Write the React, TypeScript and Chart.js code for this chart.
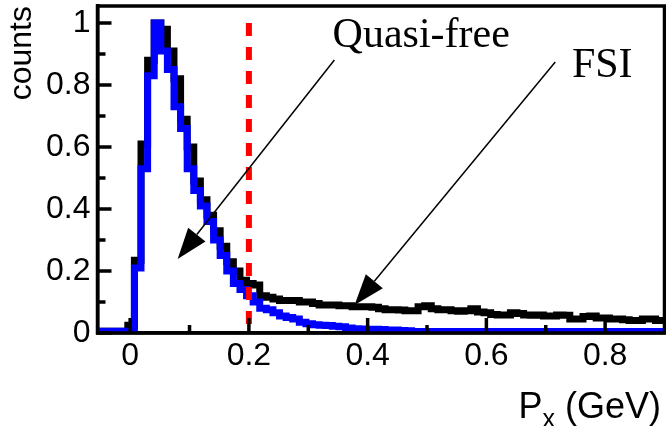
import React, { useEffect, useRef } from "react";
import { Chart, registerables } from "chart.js";

Chart.register(...registerables);

// Histogram binning (left edge of first bin, bin width) in GeV
const BIN_FIRST_EDGE = -0.0595;
const BIN_WIDTH = 1 / 90;

// Total spectrum (black): quasi-free + FSI
const totalCounts = [
  0.006, 0.006, 0.006, 0.006, 0.006,
  0.025, 0.235, 0.61, 0.88, 1.0, 0.98, 0.91, 0.82, 0.69, 0.6,
  0.49, 0.43, 0.38, 0.33, 0.28, 0.23, 0.2, 0.17, 0.16, 0.155,
  0.12, 0.115, 0.11, 0.105, 0.105, 0.105, 0.1, 0.1, 0.095, 0.09,
  0.09, 0.09, 0.088, 0.088, 0.085, 0.085, 0.085, 0.083, 0.078, 0.075,
  0.075, 0.074, 0.072, 0.072, 0.085, 0.088, 0.078, 0.075, 0.075, 0.072,
  0.07, 0.072, 0.078, 0.068, 0.065, 0.06, 0.058, 0.058, 0.065, 0.063,
  0.058, 0.057, 0.058, 0.055, 0.055, 0.058, 0.057, 0.045, 0.045, 0.053,
  0.055, 0.048, 0.048, 0.045, 0.045, 0.043, 0.04, 0.04, 0.045, 0.045,
  0.04, 0.04,
];

// Quasi-free spectrum (blue)
const quasiFreeCounts = [
  0.006, 0.006, 0.006, 0.006, 0.006,
  0.006, 0.21, 0.53, 0.83, 1.0, 0.91, 0.85, 0.73, 0.66, 0.53,
  0.46, 0.41, 0.36, 0.3, 0.25, 0.2, 0.16, 0.14, 0.12, 0.1,
  0.08, 0.075, 0.065, 0.055, 0.05, 0.045, 0.035, 0.03, 0.027, 0.025,
  0.024, 0.022, 0.02, 0.016, 0.014, 0.013, 0.012, 0.012, 0.011, 0.01,
  0.01, 0.008, 0.007, 0.005, 0.005, 0.005, 0.005, 0.005, 0.005, 0.005,
  0.005, 0.005, 0.005, 0.005, 0.005, 0.005, 0.005, 0.005, 0.005, 0.005,
  0.005, 0.005, 0.005, 0.005, 0.005, 0.005, 0.005, 0.005, 0.005, 0.005,
  0.005, 0.005, 0.005, 0.005, 0.005, 0.005, 0.005, 0.005, 0.005, 0.005,
  0.005, 0.005,
];

const xMajorTicks = [0, 0.2, 0.4, 0.6, 0.8];
const xMinorTicks = [0.1, 0.3, 0.5, 0.7];
const yMajorTicks = [0, 0.2, 0.4, 0.6, 0.8, 1];
const yMinorTicks = [0.1, 0.3, 0.5, 0.7, 0.9];

const cutValue = 0.2; // red dashed cut in GeV
const cutRange = [1, 0];

// Annotations (data coordinates)
const quasiFreeLabel = { text: "Quasi-free", x: 0.341, y: 0.923 };
const fsiLabel = { text: "FSI", x: 0.744, y: 0.825 };
const quasiFreeArrow = { from: [0.344, 0.881], to: [0.08, 0.239] };
const fsiArrow = { from: [0.716, 0.874], to: [0.378, 0.09] };

const SANS = "'Liberation Sans', Arial, Helvetica, sans-serif";
const SERIF = "'Liberation Serif', 'Times New Roman', serif";

function toSteps(values: number[]) {
  const pts = values.map((v, i) => ({ x: BIN_FIRST_EDGE + i * BIN_WIDTH, y: v }));
  pts.push({ x: BIN_FIRST_EDGE + values.length * BIN_WIDTH, y: values[values.length - 1] });
  return pts;
}

function fmt(v: number) {
  if (Math.abs(v) < 1e-9) return "0";
  if (Math.abs(v - 1) < 1e-9) return "1";
  return String(Math.round(v * 10) / 10);
}

function drawFrame(chart: any) {
  const ctx = chart.ctx;
  const x = chart.scales.x;
  const y = chart.scales.y;
  const L = x.left;
  const R = x.right;
  const T = y.top;
  const B = y.bottom;
  ctx.save();
  ctx.setLineDash([]);
  ctx.strokeStyle = "#000000";
  ctx.lineCap = "butt";
  ctx.lineJoin = "miter";
  ctx.lineWidth = 3.5;
  ctx.beginPath();
  ctx.moveTo(L, T);
  ctx.lineTo(R, T);
  ctx.lineTo(R, B);
  ctx.lineTo(L, B);
  ctx.closePath();
  ctx.stroke();
  ctx.beginPath();
  xMajorTicks.forEach((v) => {
    const p = x.getPixelForValue(v);
    ctx.moveTo(p, B);
    ctx.lineTo(p, B - 15);
  });
  xMinorTicks.forEach((v) => {
    const p = x.getPixelForValue(v);
    ctx.moveTo(p, B);
    ctx.lineTo(p, B - 8);
  });
  yMajorTicks.forEach((v) => {
    const p = y.getPixelForValue(v);
    ctx.moveTo(L, p);
    ctx.lineTo(L + 14, p);
  });
  yMinorTicks.forEach((v) => {
    const p = y.getPixelForValue(v);
    ctx.moveTo(L, p);
    ctx.lineTo(L + 8, p);
  });
  ctx.stroke();
  ctx.restore();
}

function drawArrow(ctx: CanvasRenderingContext2D, x0: number, y0: number, x1: number, y1: number) {
  const ang = Math.atan2(y1 - y0, x1 - x0);
  const L = 31;
  const W = 11;
  const bx = x1 - L * Math.cos(ang);
  const by = y1 - L * Math.sin(ang);
  ctx.beginPath();
  ctx.moveTo(x0, y0);
  ctx.lineTo(bx, by);
  ctx.lineWidth = 1.5;
  ctx.stroke();
  ctx.beginPath();
  ctx.moveTo(x1, y1);
  ctx.lineTo(bx + W * Math.sin(ang), by - W * Math.cos(ang));
  ctx.lineTo(bx - W * Math.sin(ang), by + W * Math.cos(ang));
  ctx.closePath();
  ctx.fill();
}

const annotationPlugin = {
  id: "annotations",
  afterDatasetsDraw(chart: any) {
    const { ctx, scales } = chart;
    const x = scales.x;
    const y = scales.y;
    ctx.save();
    ctx.setLineDash([]);
    ctx.strokeStyle = "#000";
    ctx.fillStyle = "#000";
    [quasiFreeArrow, fsiArrow].forEach((ar) => {
      drawArrow(
        ctx,
        x.getPixelForValue(ar.from[0]),
        y.getPixelForValue(ar.from[1]),
        x.getPixelForValue(ar.to[0]),
        y.getPixelForValue(ar.to[1])
      );
    });
    ctx.font = `42px ${SERIF}`;
    ctx.textAlign = "left";
    ctx.textBaseline = "alphabetic";
    [quasiFreeLabel, fsiLabel].forEach((l) => {
      ctx.fillText(l.text, x.getPixelForValue(l.x), y.getPixelForValue(l.y));
    });
    ctx.restore();
    drawFrame(chart);
  },
  afterDraw(chart: any) {
    const { ctx, chartArea: a } = chart;
    ctx.save();
    ctx.fillStyle = "#000";
    ctx.textBaseline = "alphabetic";
    ctx.textAlign = "left";
    const right = a.right - 3.5;
    const base = a.bottom + 85;
    ctx.font = `36px ${SANS}`;
    const tail = " (GeV)";
    const wTail = ctx.measureText(tail).width;
    const wP = ctx.measureText("P").width;
    ctx.font = `25px ${SANS}`;
    const wX = ctx.measureText("x").width;
    const start = right - wTail - wX - wP;
    ctx.font = `36px ${SANS}`;
    ctx.fillText("P", start, base);
    ctx.fillText(tail, start + wP + wX, base);
    ctx.font = `25px ${SANS}`;
    ctx.fillText("x", start + wP, base + 9);
    ctx.restore();
  },
};

export default function App() {
  const ref = useRef<HTMLCanvasElement | null>(null);

  useEffect(() => {
    if (!ref.current) return;
    const chart = new Chart(ref.current, {
      type: "line",
      data: {
        datasets: [
          {
            label: "cut",
            data: cutRange.map((v) => ({ x: cutValue, y: v })),
            borderColor: "#ff0000",
            borderWidth: 6,
            borderDash: [13, 11],
            pointRadius: 0,
            borderCapStyle: "butt",
          },
          {
            label: "Quasi-free",
            data: toSteps(quasiFreeCounts),
            borderColor: "#0000ff",
            borderWidth: 7,
            stepped: "before",
            pointRadius: 0,
            borderJoinStyle: "miter",
            borderCapStyle: "butt",
          },
          {
            label: "Total",
            data: toSteps(totalCounts),
            borderColor: "#000000",
            borderWidth: 7,
            stepped: "before",
            pointRadius: 0,
            borderJoinStyle: "miter",
            borderCapStyle: "butt",
          },
        ],
      },
      options: {
        responsive: false,
        animation: false,
        devicePixelRatio: 1,
        events: [],
        layout: { padding: { top: 6, right: 1.5, left: 0, bottom: 0 } },
        plugins: {
          legend: { display: false },
          tooltip: { enabled: false },
        },
        scales: {
          x: {
            type: "linear",
            min: -0.055,
            max: 0.9,
            grid: { display: false, drawTicks: false },
            border: { display: true, color: "#000", width: 3.5 },
            ticks: {
              stepSize: 0.2,
              includeBounds: false,
              autoSkip: false,
              maxRotation: 0,
              padding: 4,
              color: "#000",
              font: { family: SANS, size: 32 },
              callback: (v: any) => fmt(Number(v)),
            },
            afterFit: (s: any) => {
              s.height = 93;
              s.paddingLeft = 0;
              s.paddingRight = 0;
            },
          },
          y: {
            type: "linear",
            min: 0,
            max: 1.055,
            grid: { display: false, drawTicks: false },
            border: { display: true, color: "#000", width: 3.5 },
            ticks: {
              stepSize: 0.2,
              includeBounds: false,
              padding: 7,
              color: "#000",
              font: { family: SANS, size: 32 },
              callback: (v: any) => fmt(Number(v)),
            },
            title: {
              display: true,
              text: "counts",
              align: "end",
              color: "#000",
              font: { family: SANS, size: 32 },
              padding: { top: 3, bottom: 0 },
            },
            afterFit: (s: any) => {
              s.width = 97.5;
              s.paddingTop = 0;
              s.paddingBottom = 0;
            },
          },
        },
      },
      plugins: [annotationPlugin],
    } as any);
    return () => chart.destroy();
  }, []);

  return (
    <div style={{ position: "fixed", left: 0, top: 0, width: 666, height: 426, background: "#fff" }}>
      <canvas ref={ref} width={666} height={426} style={{ display: "block" }} />
    </div>
  );
}
